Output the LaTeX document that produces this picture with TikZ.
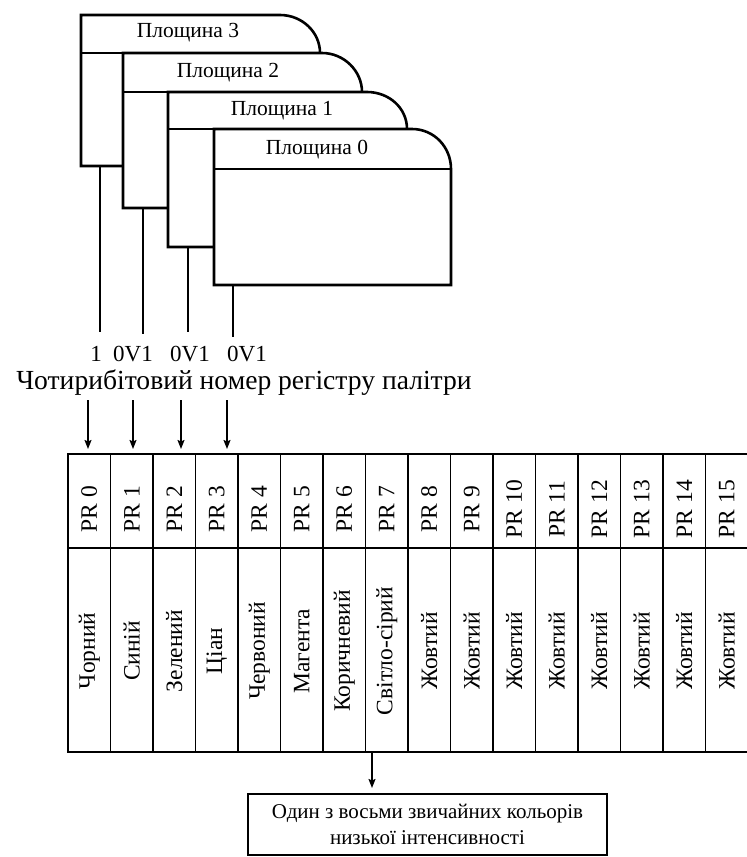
\documentclass[tikz,border=0pt]{standalone}
\usepackage{fontspec}
\setmainfont{Liberation Serif}
\usetikzlibrary{arrows.meta}
\begin{document}
\begin{tikzpicture}[x=1pt,y=-1pt,
  plane/.style={draw, line width=2.6pt, fill=white, line join=miter},
  hline/.style={line width=2.6pt},
  wire/.style={line width=2.3pt},
  planelabel/.style={font=\fontsize{21.5}{23}\selectfont, inner sep=0pt},
  bitlabel/.style={font=\fontsize{23}{25}\selectfont, inner sep=0pt},
  titlelabel/.style={font=\fontsize{27.6}{29}\selectfont, inner sep=0pt},
  cell/.style={draw, line width=1.4pt},
  celltext/.style={rotate=90, font=\fontsize{23.5}{25}\selectfont, inner sep=0pt},
  note/.style={draw, line width=1.8pt, minimum width=359pt, minimum height=61pt, align=center, inner sep=0pt, font=\fontsize{21}{26}\selectfont},
  arr/.style={line width=1.6pt, -{Stealth[length=9pt, width=7pt, inset=1.5pt]}}
]
\useasboundingbox (0,0) rectangle (747,857);

% Plane 3
\draw[plane] (81,166) -- (81,15) -- (280,15) .. controls (302,15) and (320,32) .. (320,53) -- (320,166) -- cycle;
\draw[hline] (81,53) -- (320,53);
\node[planelabel] (pl3) at (188,33) {Площина 3};
% Plane 2
\draw[plane] (123,208) -- (123,53) -- (322,53) .. controls (344,53) and (362,71) .. (362,92) -- (362,208) -- cycle;
\draw[hline] (123,92) -- (362,92);
\node[planelabel] (pl2) at (228,73) {Площина 2};
% Plane 1
\draw[plane] (168,247) -- (168,92) -- (367,92) .. controls (389,92) and (407,108) .. (407,129) -- (407,247) -- cycle;
\draw[hline] (168,129) -- (407,129);
\node[planelabel] (pl1) at (282,111) {Площина 1};
% Plane 0
\draw[plane] (214,285) -- (214,129) -- (412,129) .. controls (434,129) and (451,147) .. (451,169) -- (451,285) -- cycle;
\draw[hline] (214,169) -- (451,169);
\node[planelabel] (pl0) at (317,150) {Площина 0};

% connectors from planes
\coordinate (w3a) at (100,166); \coordinate (w3b) at (100,332);
\coordinate (w2a) at (143,208); \coordinate (w2b) at (143,334);
\coordinate (w1a) at (188,247); \coordinate (w1b) at (188,332);
\coordinate (w0a) at (233,285); \coordinate (w0b) at (233,337);
\draw[wire] (w3a) -- (w3b);
\draw[wire] (w2a) -- (w2b);
\draw[wire] (w1a) -- (w1b);
\draw[wire] (w0a) -- (w0b);

\node[bitlabel] (b3) at (96,354) {1};
\node[bitlabel] (b2) at (133,354) {0V1};
\node[bitlabel] (b1) at (190,354) {0V1};
\node[bitlabel] (b0) at (247,354) {0V1};

\node[titlelabel] (title) at (244,383) {Чотирибітовий номер регістру палітри};

% table
\foreach \i in {0,...,15} {
  \pgfmathsetmacro{\xl}{68+42.5*\i}
  \pgfmathsetmacro{\xc}{\xl+21.25}
  \draw[cell] (\xl,454) rectangle ++(42.5,94);
  \draw[cell] (\xl,548) rectangle ++(42.5,204);
  \node[celltext] (pr\i) at (\xc,509) {PR \i};
}
\foreach \i/\c in {0/Чорний,1/Синій,2/Зелений,3/Ціан,4/Червоний,5/Магента,6/Коричневий,7/Світло-сірий,8/Жовтий,9/Жовтий,10/Жовтий,11/Жовтий,12/Жовтий,13/Жовтий,14/Жовтий,15/Жовтий} {
  \pgfmathsetmacro{\xc}{68+42.5*\i+21.25}
  \node[celltext] (col\i) at (\xc,651) {\c};
}

% arrows into table
\foreach \n/\x in {0/88,1/133,2/181,3/227} {
  \coordinate (as\n) at (\x,400);
  \coordinate (ae\n) at (\x,449);
  \draw[arr] (as\n) -- (ae\n);
}

% note box
\node[note] (note) at (427.5,824.5) {Один з восьми звичайних кольорів\\низької інтенсивності};
\coordinate (ts) at (372,752);
\coordinate (te) at (372,788);
\draw[arr] (ts) -- (te);
\end{tikzpicture}
\end{document}
